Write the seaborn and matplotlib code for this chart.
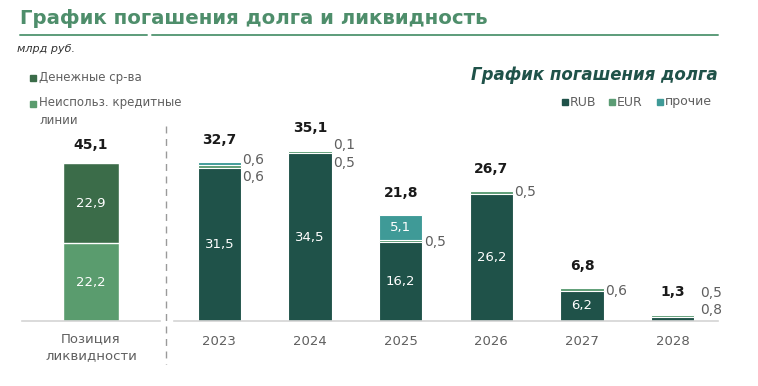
import numpy as np
import matplotlib
matplotlib.use("Agg")
import matplotlib.pyplot as plt
from matplotlib.lines import Line2D
import seaborn as sns

# data (млрд руб.)
liq_label = ["Позиция\nликвидности"]
liq_credit = [22.2]   # Неиспольз. кредитные линии
liq_cash = [22.9]     # Денежные ср-ва

years = ["2023", "2024", "2025", "2026", "2027", "2028"]
rub = [31.5, 34.5, 16.2, 26.2, 6.2, 0.8]
eur = [0.6, 0.5, 0.5, 0.5, 0.6, 0.5]
other = [0.6, 0.1, 5.1, 0.0, 0.0, 0.0]
totals = ["32,7", "35,1", "21,8", "26,7", "6,8", "1,3"]

sns.set_theme(style="white")
plt.rcParams["font.family"] = ["DejaVu Sans"]

C_RUB = "#1f5249"
C_EUR = "#5b9c74"
C_OTH = "#3f9a97"
C_CASH = "#3b6c49"
C_CRED = "#5a9c6e"
GRAY = "#5f5f5f"

def fmt(v):
    return f"{v:.1f}".replace(".", ",")

fig = plt.figure(figsize=(7.58, 3.86), dpi=100)
ax1 = fig.add_axes([22 / 758, 65 / 386, 138 / 758, 181 / 386])
ax2 = fig.add_axes([174 / 758, 65 / 386, 544 / 758, 181 / 386])

# left panel: liquidity position
liq_total = [a + b for a, b in zip(liq_credit, liq_cash)]
sns.barplot(x=liq_label, y=liq_total, color=C_CASH, width=0.4, saturation=1,
            edgecolor="white", linewidth=1, ax=ax1)
sns.barplot(x=liq_label, y=liq_credit, color=C_CRED, width=0.4, saturation=1,
            edgecolor="white", linewidth=1, ax=ax1)
ax1.set_ylim(0, 51.7)
for i in range(len(liq_label)):
    ax1.text(i, liq_credit[i] / 2, fmt(liq_credit[i]), color="white", fontsize=9.5,
             ha="center", va="center")
    ax1.text(i, liq_credit[i] + liq_cash[i] / 2, fmt(liq_cash[i]), color="white",
             fontsize=9.5, ha="center", va="center")
    ax1.annotate(fmt(liq_total[i]), (i, liq_total[i]), xytext=(0, 13),
                 textcoords="offset points", ha="center", va="center",
                 fontsize=10, fontweight="bold", color="#1a1a1a")

# right panel: debt repayment schedule (stacked via cumulative sums)
s1 = np.array(rub)
s2 = s1 + np.array(eur)
s3 = s2 + np.array(other)
for vals, col in [(s3, C_OTH), (s2, C_EUR), (s1, C_RUB)]:
    sns.barplot(x=years, y=vals, color=col, width=0.48, saturation=1,
                edgecolor="white", linewidth=0.8, ax=ax2)
ax2.set_ylim(0, 37.2)

hw = 0.24
for i in range(len(years)):
    if rub[i] >= 5:
        ax2.text(i, rub[i] / 2, fmt(rub[i]), color="white", fontsize=9.5,
                 ha="center", va="center")
    if other[i] >= 5:
        ax2.text(i, s2[i] + other[i] / 2, fmt(other[i]), color="white",
                 fontsize=9.5, ha="center", va="center")
    ax2.annotate(totals[i], (i, s3[i]), xytext=(0, 16), textcoords="offset points",
                 ha="center", va="center", fontsize=10, fontweight="bold",
                 color="#1a1a1a")

# side labels for the small segments (value, bar index, anchor value, offset in px)
side = [
    (other[0], 0, s3[0], 2), (eur[0], 0, s3[0], -15),
    (other[1], 1, s3[1], 5), (eur[1], 1, s3[1], -13),
    (eur[2], 2, rub[2] + eur[2] / 2, -1),
    (eur[3], 3, rub[3] + eur[3] / 2, 0),
    (eur[4], 4, rub[4] + eur[4] / 2, -2),
    (eur[5], 5, s3[5], 22), (rub[5], 5, s3[5], 5),
]
for v, i, yv, dy in side:
    dx = 4 if i == 5 else 1
    ax2.annotate(fmt(v), (i + hw, yv), xytext=(dx, dy * 0.72), textcoords="offset points",
                 ha="left", va="center", fontsize=10, color=GRAY)

for ax in (ax1, ax2):
    sns.despine(ax=ax, left=True)
    ax.spines["bottom"].set_color("#d4d4d4")
    ax.spines["bottom"].set_linewidth(1.2)
    ax.set_yticks([])
    ax.set_xlabel("")
    ax.set_ylabel("")
    ax.tick_params(axis="x", length=0, pad=10, labelsize=9.5, labelcolor=GRAY)
    ax.set_facecolor("none")
ax1.tick_params(axis="x", pad=8)
for lab in ax1.get_xticklabels():
    lab.set_linespacing(1.4)

# dashed separator
fig.add_artist(Line2D([166 / 758, 166 / 758], [1 - 126 / 386, 1 - 364 / 386],
                      color="#9a9a9a", lw=1, ls=(0, (5, 4))))

# titles
fig.text(20 / 758, 1 - 19 / 386, "График погашения долга и ликвидность",
         fontsize=14.2, fontweight="bold", color="#4e8e6b", ha="left", va="center")
fig.add_artist(Line2D([20 / 758, 147 / 758], [1 - 35 / 386] * 2, color="#5c9c7a", lw=1.4))
fig.add_artist(Line2D([152 / 758, 718 / 758], [1 - 35 / 386] * 2, color="#5c9c7a", lw=1.4))
fig.text(17 / 758, 1 - 49 / 386, "млрд руб.", fontsize=8, fontstyle="italic",
         color="#333333", ha="left", va="center")
fig.text(718 / 758, 1 - 75 / 386, "График погашения долга", fontsize=12,
         fontweight="bold", fontstyle="italic", color=C_RUB, ha="right", va="center")

# left legend
def square(xp, yp, col):
    fig.add_artist(Line2D([xp / 758], [1 - yp / 386], marker="s", ms=4.2, color=col, lw=0))

square(33, 78, C_CASH)
fig.text(39 / 758, 1 - 78 / 386, "Денежные ср-ва", fontsize=8.5, color=GRAY, va="center")
square(33, 104, C_CRED)
fig.text(39 / 758, 1 - 112 / 386, "Неиспольз. кредитные\nлинии", fontsize=8.5,
         color=GRAY, va="center", linespacing=1.5)

# right legend
for x0, lab, col in [(565, "RUB", C_RUB), (612, "EUR", C_EUR), (660, "прочие", C_OTH)]:
    square(x0, 102, col)
    fig.text((x0 + 5) / 758, 1 - 102 / 386, lab, fontsize=9, color=GRAY, va="center")

fig.savefig("out.png", dpi=100, facecolor="white")
